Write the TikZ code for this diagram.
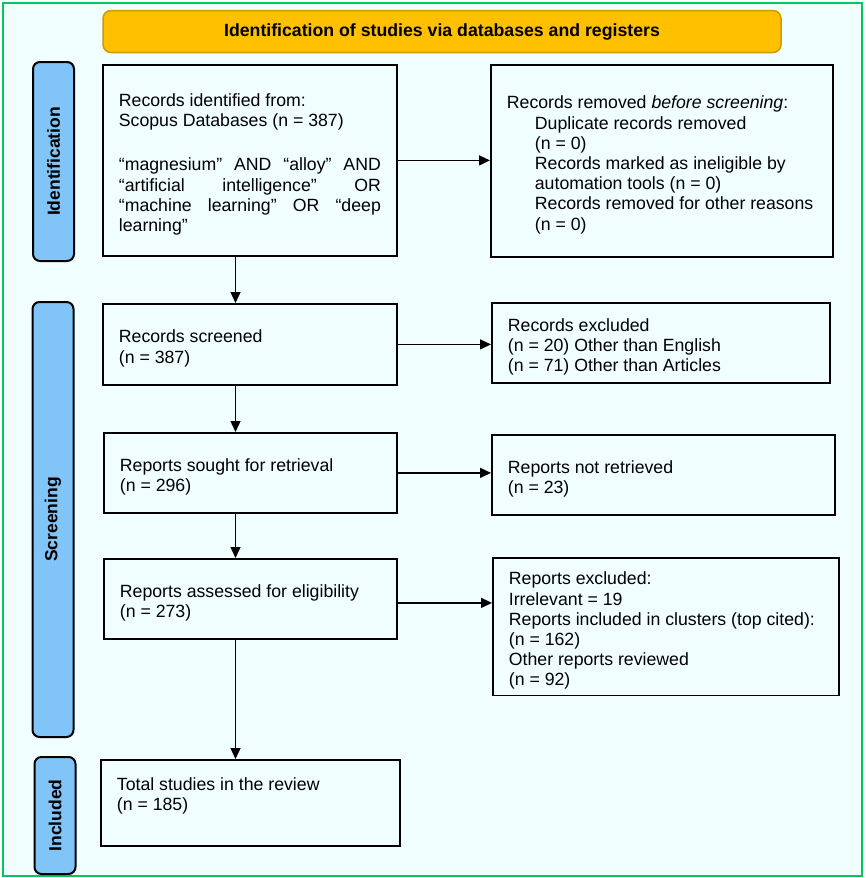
\documentclass[tikz,border=0pt]{standalone}
\usepackage{fontspec}
\setmainfont{Liberation Sans}
\usetikzlibrary{arrows.meta, positioning, calc}
\definecolor{panelcyan}{RGB}{240,254,255}
\definecolor{framegreen}{RGB}{0,200,90}
\definecolor{titlegold}{RGB}{255,192,0}
\definecolor{titleedge}{RGB}{205,155,0}
\definecolor{stageblue}{RGB}{128,196,248}
\tikzset{
    prismabox/.style={rectangle, draw=black, fill=panelcyan, line width=1.8pt, align=flush left, anchor=north west, inner xsep=16pt, inner ysep=6pt, font=\fontsize{17.7}{20.2}\selectfont, execute at begin node={\rule{0pt}{21pt}}},
    prismastage/.style={rectangle, draw=black, fill=stageblue, rounded corners=7pt, line width=2pt, rotate=90, minimum height=41pt, font=\bfseries\fontsize{17.5}{20}\selectfont},
    prismatitle/.style={rectangle, draw=titleedge, fill=titlegold, rounded corners=8pt, line width=1.5pt, minimum width=678pt, minimum height=42pt, font=\bfseries\fontsize{17.7}{20}\selectfont},
    prismaarrow/.style={-{Triangle[length=11pt, width=10pt]}, line width=1.3pt}
}
\newcommand{\spreadline}[1]{\makebox[262pt][s]{#1}}

\begin{document}
\begin{tikzpicture}[x=1pt, y=-1pt]
\useasboundingbox (0,0) rectangle (865,878);
\draw[framegreen, line width=2pt, fill=panelcyan] (2.5,2.5) rectangle (862,875.5);

\node[prismatitle] (title) at (442,31.5) {Identification of studies via databases and registers};

% stage labels
\node[prismastage, minimum width=199pt] (idstage) at (53.5,161.5) {Identification};
\node[prismastage, minimum width=435pt] (scrstage) at (53,519.5) {Screening};
\node[prismastage, minimum width=117pt] (incstage) at (55,815.5) {Included};

% main column
\node[prismabox, text width=262pt, minimum height=191pt] (ident) at (102,64) {Records identified from:\\Scopus Databases (n = 387)\\[24pt]
\spreadline{“magnesium” AND “alloy” AND}\\
\spreadline{“artificial intelligence” OR}\\
\spreadline{“machine learning” OR “deep}\\
learning”};
\node[prismabox, text width=262pt, minimum height=81pt] (screened) at (102,303) {Records screened\\(n = 387)};
\node[prismabox, text width=261pt, minimum height=80pt] (sought) at (103,432) {Reports sought for retrieval\\(n = 296)};
\node[prismabox, text width=261pt, minimum height=80pt] (assessed) at (103,558) {Reports assessed for eligibility\\(n = 273)};
\node[prismabox, text width=267pt, minimum height=86pt] (total) at (100,759) {Total studies in the review\\(n = 185)\rule[-26pt]{0pt}{1pt}};

% side column
\node[prismabox, text width=310pt, minimum height=192pt] (removed) at (490,64) {Records removed \emph{before screening}:\\
\hspace*{28pt}Duplicate records removed\\
\hspace*{28pt}(n = 0)\\
\hspace*{28pt}Records marked as ineligible by\\
\hspace*{28pt}automation tools (n = 0)\\
\hspace*{28pt}Records removed for other reasons\\
\hspace*{28pt}(n = 0)};
\node[prismabox, text width=306pt, minimum height=80pt] (excluded) at (491,302) {Records excluded\\(n = 20) Other than English\\(n = 71) Other than Articles};
\node[prismabox, text width=311pt, minimum height=80pt] (notret) at (491,434) {Reports not retrieved\\(n = 23)};
\node[prismabox, text width=314pt, minimum height=136pt] (repexcl) at (492,557) {Reports excluded:\\Irrelevant = 19\\Reports included in clusters (top cited):\\(n = 162)\\Other reports reviewed\\(n = 92)};

% arrows
\coordinate (stem) at (235.5,0);
\draw[prismaarrow] (stem |- ident.south) -- (stem |- screened.north);
\draw[prismaarrow] (stem |- screened.south) -- (stem |- sought.north);
\draw[prismaarrow] (stem |- sought.south) -- (stem |- assessed.north);
\draw[prismaarrow] (stem |- assessed.south) -- (stem |- total.north);
\draw[prismaarrow] (ident.east) -- (ident.east -| removed.west);
\draw[prismaarrow] (screened.east) -- (screened.east -| excluded.west);
\draw[prismaarrow] (sought.east) -- (sought.east -| notret.west);
\draw[prismaarrow] ([yshift=-4pt]assessed.east) -- ([yshift=-4pt]assessed.east -| repexcl.west);

\end{tikzpicture}
\end{document}
